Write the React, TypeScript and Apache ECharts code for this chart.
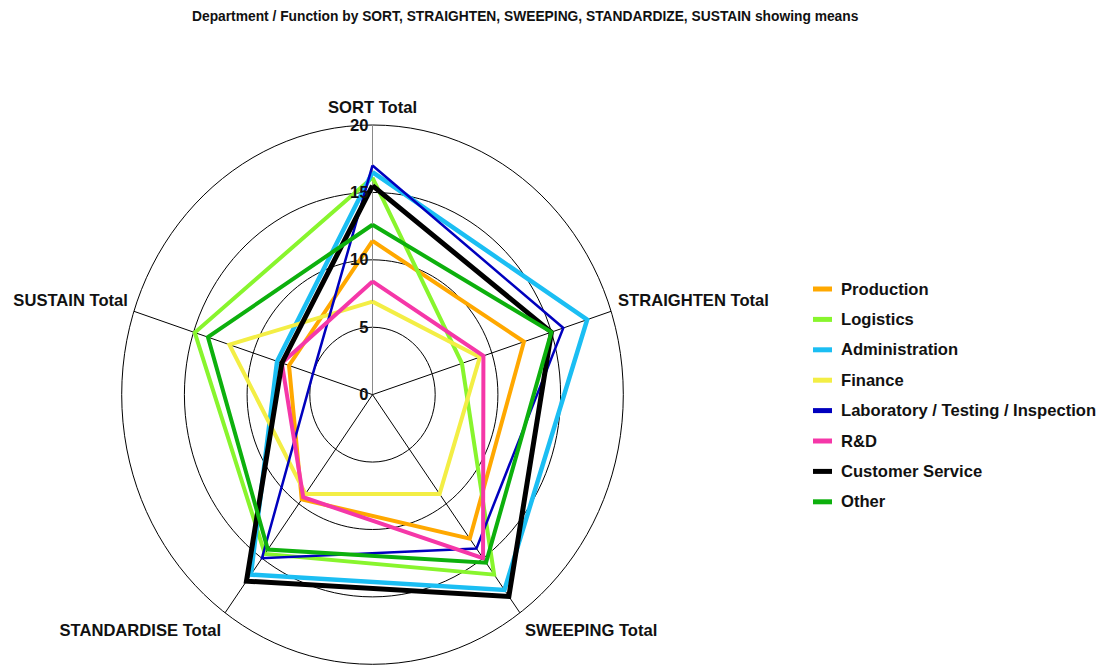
import React, { useEffect, useRef } from "react";
import * as echarts from "echarts";

// ---------- data ----------
const chartTitle =
  "Department / Function by SORT, STRAIGHTEN, SWEEPING, STANDARDIZE, SUSTAIN showing means";
const axisNames = [
  "SORT Total",
  "STRAIGHTEN Total",
  "SWEEPING Total",
  "STANDARDISE Total",
  "SUSTAIN Total",
];
const departments = [
  "Production",
  "Logistics",
  "Administration",
  "Finance",
  "Laboratory / Testing / Inspection",
  "R&D",
  "Customer Service",
  "Other",
];
const production = [11.4, 12.7, 13.2, 9.6, 7.0];
const logistics = [16.1, 7.5, 16.5, 14.6, 14.9];
const administration = [16.5, 18.0, 17.9, 16.5, 8.0];
const finance = [6.9, 9.0, 9.1, 9.1, 12.0];
const laboratory = [17.0, 16.0, 14.1, 15.0, 5.0];
const rnd = [8.4, 9.3, 15.0, 9.4, 7.6];
const customerService = [15.5, 15.0, 18.5, 17.1, 7.6];
const other = [12.6, 15.0, 15.4, 14.2, 13.8];
const departmentValues = [
  production,
  logistics,
  administration,
  finance,
  laboratory,
  rnd,
  customerService,
  other,
];
const gridLevels = [5, 10, 15, 20];
const tickLabels = ["0", "5", "10", "15", "20"];
const tickValues = [0, 5, 10, 15, 20];
const axisMax = 20;

// ---------- styles ----------
const colors = [
  "#FFA800",
  "#88F52D",
  "#1BBEF3",
  "#F3EE45",
  "#0000BE",
  "#F537A8",
  "#000000",
  "#0DB00D",
];
const lineWidths = [4, 4, 4.5, 4, 2.5, 4, 5, 4];
const FONT = '"Liberation Sans", Arial, Helvetica, sans-serif';
const LABEL_SIZE = 16.6;
const nameLayout = [
  { dx: 0, dy: -18, align: "center" },
  { dx: 7, dy: -11, align: "left" },
  { dx: 5, dy: 18, align: "left" },
  { dx: -4, dy: 18, align: "right" },
  { dx: -6, dy: -11, align: "right" },
];

const angleOf = (i: number) => ((90 - (360 / axisNames.length) * i) * Math.PI) / 180;
const toXY = (v: number, i: number) => [v * Math.cos(angleOf(i)), v * Math.sin(angleOf(i))];

export default function App() {
  const ref = useRef<HTMLDivElement>(null);
  useEffect(() => {
    if (!ref.current) return;
    const chart = echarts.init(ref.current, null, { renderer: "svg" });

    const lineSeries = departments.map((name, k) => {
      const vals = departmentValues[k];
      const pts = vals.map((v, i) => toXY(v, i));
      pts.push(pts[0]);
      return {
        name,
        type: "line",
        data: pts,
        symbol: "none",
        z: 3,
        silent: true,
        itemStyle: { color: colors[k] },
        lineStyle: { color: colors[k], width: lineWidths[k], join: "miter" },
        emphasis: { disabled: true },
      };
    });

    const option: any = {
      animation: false,
      backgroundColor: "#ffffff",
      title: {
        text: chartTitle,
        left: 192,
        top: 9,
        padding: 0,
        textStyle: { fontSize: 13.8, fontWeight: "bold", color: "#111", fontFamily: FONT },
      },
      legend: {
        orient: "vertical",
        left: 813,
        top: 279,
        padding: 0,
        icon: "rect",
        itemWidth: 19,
        itemHeight: 5,
        itemGap: 10.4,
        selectedMode: false,
        data: departments,
        textStyle: {
          fontSize: LABEL_SIZE,
          fontWeight: "bold",
          color: "#111",
          fontFamily: FONT,
          lineHeight: 20,
          padding: [0, 0, 0, 4],
        },
      },
      grid: {
        left: 121.7,
        top: 125,
        width: 501.6,
        height: 539.3,
        containLabel: false,
        outerBoundsMode: "none",
      },
      xAxis: {
        type: "value",
        min: -axisMax,
        max: axisMax,
        show: false,
      },
      yAxis: {
        type: "value",
        min: -axisMax,
        max: axisMax,
        show: false,
      },
      series: [
        {
          type: "custom",
          z: 1,
          silent: true,
          clip: false,
          data: gridLevels.map((r) => [r, 0]),
          renderItem: (params: any, api: any) => {
            const r = api.value(0);
            const c = api.coord([0, 0]);
            const s = api.size([r, r]);
            return {
              type: "ellipse",
              shape: { cx: c[0], cy: c[1], rx: s[0], ry: s[1] },
              style: { fill: "none", stroke: "#000", lineWidth: 1 },
            };
          },
        },
        {
          type: "custom",
          z: 1,
          silent: true,
          clip: false,
          data: axisNames.map(() => [0, 0]),
          renderItem: (params: any, api: any) => {
            const i = params.dataIndex;
            const c = api.coord([0, 0]);
            const e = api.coord(toXY(axisMax, i));
            const lay = nameLayout[i];
            return {
              type: "group",
              children: [
                {
                  type: "line",
                  shape: { x1: c[0], y1: c[1], x2: e[0], y2: e[1] },
                  style: { stroke: i === 0 ? "#8a8a8a" : "#000", lineWidth: 1 },
                },
                {
                  type: "text",
                  style: {
                    x: e[0] + lay.dx,
                    y: e[1] + lay.dy,
                    text: axisNames[i],
                    fill: "#111",
                    font: `bold ${LABEL_SIZE}px ${FONT}`,
                    align: lay.align,
                    verticalAlign: "middle",
                  },
                },
              ],
            };
          },
        },
        ...lineSeries,
        {
          type: "custom",
          z: 10,
          silent: true,
          clip: false,
          data: tickValues.map((v) => [0, v]),
          renderItem: (params: any, api: any) => {
            const p = api.coord([0, api.value(1)]);
            return {
              type: "text",
              style: {
                x: p[0] - 4,
                y: p[1],
                text: tickLabels[params.dataIndex],
                fill: "#111",
                font: `bold ${LABEL_SIZE}px ${FONT}`,
                align: "right",
                verticalAlign: "middle",
              },
            };
          },
        },
      ],
    };
    chart.setOption(option);
    return () => chart.dispose();
  }, []);
  return (
    <div
      ref={ref}
      style={{ position: "fixed", left: 0, top: 0, width: 1108, height: 666 }}
    />
  );
}
